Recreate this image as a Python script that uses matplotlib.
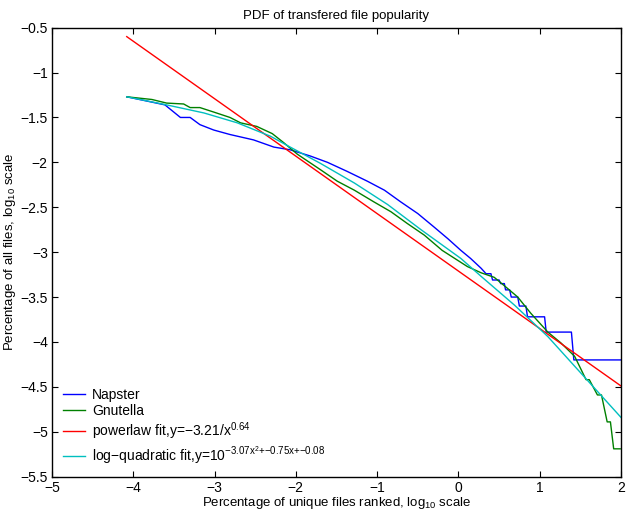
import matplotlib
matplotlib.use('Agg')
import matplotlib.pyplot as plt
from matplotlib.ticker import FuncFormatter

plt.rcParams['font.family'] = ['Liberation Sans', 'DejaVu Sans']
plt.rcParams['mathtext.default'] = 'regular'

# Napster (blue)
napster_x = [-4.08, -3.61, -3.42, -3.30, -3.18, -3.01, -2.81, -2.52, -2.27, -2.07,
             -1.82, -1.61, -1.37, -1.12, -0.91, -0.71, -0.50, -0.30, -0.13, 0.03,
             0.15, 0.28, 0.34, 0.40, 0.42, 0.50, 0.52, 0.565, 0.58, 0.63,
             0.65, 0.73, 0.75, 0.83, 0.85, 1.06, 1.08, 1.39, 1.42, 2.0]
napster_y = [-1.27, -1.36, -1.50, -1.50, -1.58, -1.64, -1.69, -1.75, -1.83, -1.86,
             -1.93, -2.00, -2.10, -2.21, -2.31, -2.44, -2.57, -2.72, -2.85, -2.98,
             -3.07, -3.18, -3.24, -3.24, -3.31, -3.31, -3.35, -3.35, -3.42, -3.42,
             -3.50, -3.50, -3.60, -3.60, -3.72, -3.72, -3.89, -3.89, -4.20, -4.20]

# Gnutella (green)
gnutella_x = [-4.08, -3.77, -3.59, -3.38, -3.30, -3.18, -3.01, -2.81, -2.68, -2.48,
              -2.29, -2.15, -1.98, -1.70, -1.49, -1.28, -1.04, -0.83, -0.63, -0.42,
              -0.20, 0.11, 0.28, 0.44, 0.56, 0.73, 0.89, 1.10, 1.26, 1.43,
              1.57, 1.61, 1.71, 1.76, 1.83, 1.87, 1.91, 1.99]
gnutella_y = [-1.27, -1.30, -1.34, -1.35, -1.39, -1.39, -1.44, -1.50, -1.56, -1.60,
              -1.68, -1.78, -1.91, -2.08, -2.21, -2.31, -2.44, -2.55, -2.68, -2.81,
              -2.98, -3.16, -3.23, -3.28, -3.37, -3.50, -3.68, -3.89, -4.01, -4.16,
              -4.42, -4.42, -4.59, -4.59, -4.89, -4.89, -5.19, -5.19]

# powerlaw fit (red)
power_x = [-4.08, 2.0]
power_y = [-0.60, -4.49]

# log-quadratic fit (cyan)
quad_x = [-4.08, -3.59, -3.13, -2.72, -2.31, -2.11, -1.70, -1.28, -0.87, -0.46,
          0.03, 0.28, 0.69, 1.10, 1.47, 2.0]
quad_y = [-1.27, -1.36, -1.45, -1.56, -1.71, -1.81, -2.01, -2.23, -2.47, -2.75,
          -3.07, -3.27, -3.59, -3.94, -4.31, -4.84]

x_ticks = [-5, -4, -3, -2, -1, 0, 1, 2]
y_ticks = [-5.5, -5, -4.5, -4, -3.5, -3, -2.5, -2, -1.5, -1, -0.5]

fig = plt.figure(figsize=(6.26, 5.12), dpi=100)
ax = fig.add_axes([0.083, 0.069, 0.909, 0.877])

ax.plot(napster_x, napster_y, color='#0000ff', lw=1.0, label='Napster')
ax.plot(gnutella_x, gnutella_y, color='#008000', lw=1.0, label='Gnutella')
ax.plot(power_x, power_y, color='#ff0000', lw=1.0,
        label='powerlaw fit,y=\u22123.21/x$^{0.64}$')
ax.plot(quad_x, quad_y, color='#00bfbf', lw=1.0,
        label='log\u2212quadratic fit,y=10$^{\u22123.07x^2{+}{\u2212}0.75x{+}{\u2212}0.08}$')

ax.set_xlim(-5, 2)
ax.set_ylim(-5.5, -0.5)
ax.set_xticks(x_ticks)
ax.set_yticks(y_ticks)
fmt = FuncFormatter(lambda v, p: ('%g' % v).replace('-', '\u2212'))
ax.xaxis.set_major_formatter(fmt)
ax.yaxis.set_major_formatter(fmt)
ax.tick_params(direction='in', top=True, right=True, labelsize=10, length=4, pad=3)
for s in ax.spines.values():
    s.set_linewidth(1.0)

ax.set_title('PDF of transfered file popularity', fontsize=9.5, pad=6)
ax.set_xlabel('Percentage of unique files ranked, log$_{10}$ scale', fontsize=9.5, labelpad=0)
ax.set_ylabel('Percentage of all files, log$_{10}$ scale', fontsize=9.5, labelpad=2)

ax.legend(loc='lower left', frameon=False, fontsize=10, handlelength=1.6,
          handletextpad=0.5, labelspacing=0.15, borderaxespad=0.4)

fig.savefig('out.png', dpi=100)
